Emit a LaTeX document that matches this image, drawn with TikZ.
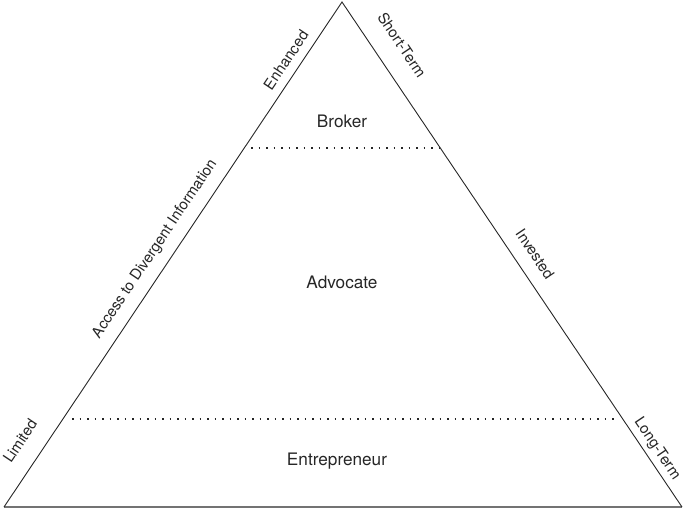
\documentclass[tikz,border=0pt]{standalone}
\usepackage{fontspec}
\setmainfont{TeX Gyre Heros}
\begin{document}
\begin{tikzpicture}[x=1pt,y=-1pt,
  side/.style={draw=black!85, line width=0.9pt},
  baseline/.style={draw=black!55, line width=2.2pt},
  dotline/.style={draw=black!85, line width=1.7pt, dash pattern=on 1.7pt off 5.8pt},
  tier/.style={font=\fontsize{17.2}{20}\selectfont, text=black!85, inner sep=0pt},
  lbl/.style={font=\fontsize{15}{18}\selectfont, text=black!85, inner sep=0pt}]
\useasboundingbox (0,0) rectangle (685,511);
\coordinate (A) at (342,2);
\coordinate (L) at (4,507);
\coordinate (R) at (682,507);
\coordinate (d1a) at (251,148);
\coordinate (d1b) at (439,148);
\coordinate (d2a) at (72,419);
\coordinate (d2b) at (618,419);
\draw[baseline] (L) -- (R);
\draw[side] (L) -- (A) -- (R);
\draw[dotline] (d1a) -- (d1b);
\draw[dotline] (d2a) -- (d2b);
\node[tier] (broker) at (342,121) {Broker};
\node[tier] (advocate) at (342,282) {Advocate};
\node[tier] (entre) at (337,461) {Entrepreneur};
\node[lbl, rotate=56.2] (enh) at (286,60) {Enhanced};
\node[lbl, rotate=56.2] (acc) at (155,249) {Access to Divergent Information};
\node[lbl, rotate=56.2] (lim) at (20,441) {Limited};
\node[lbl, rotate=-56] (st) at (402,45) {Short-Term};
\node[lbl, rotate=-56] (inv) at (535,254) {Invested};
\node[lbl, rotate=-56] (lt) at (657,449) {Long-Term};
\end{tikzpicture}
\end{document}
